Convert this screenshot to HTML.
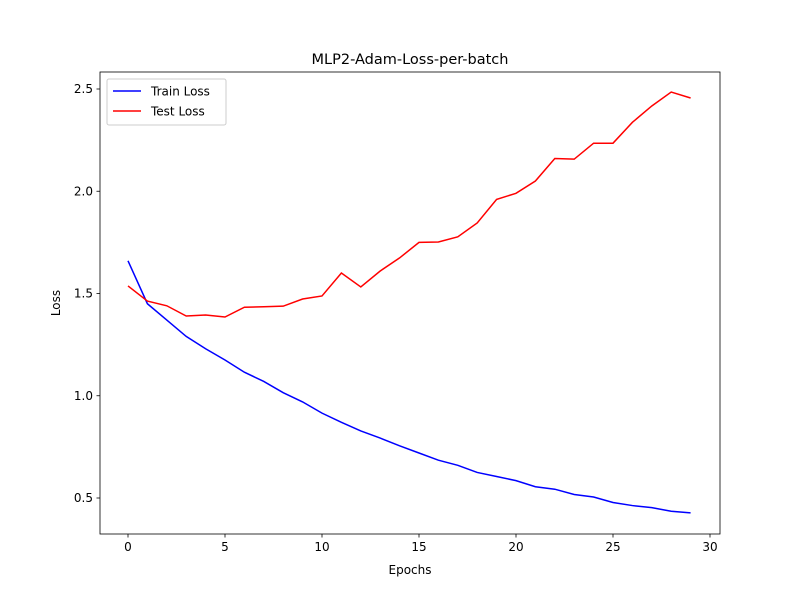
<!DOCTYPE html>
<html><head><meta charset="utf-8"><style>body{margin:0;background:#fff}svg{display:block;font-family:"DejaVu Sans","Liberation Sans",sans-serif}</style></head>
<body>
<svg id="chart" width="800" height="600" viewBox="0 0 800 600" xmlns="http://www.w3.org/2000/svg"></svg>
<script>
const epochs = [0,1,2,3,4,5,6,7,8,9,10,11,12,13,14,15,16,17,18,19,20,21,22,23,24,25,26,27,28,29];
const trainLoss = [1.66,1.45,1.37,1.29,1.23,1.175,1.115,1.07,1.015,0.97,0.915,0.87,0.828,0.793,0.755,0.72,0.685,0.66,0.625,0.605,0.585,0.555,0.543,0.517,0.505,0.478,0.463,0.453,0.435,0.427];
const testLoss = [1.537,1.463,1.44,1.39,1.395,1.385,1.433,1.435,1.438,1.473,1.488,1.6,1.532,1.61,1.674,1.75,1.752,1.777,1.845,1.96,1.99,2.05,2.16,2.157,2.235,2.235,2.337,2.417,2.485,2.456];
const xTicks = [0,5,10,15,20,25,30];
const yTicks = [0.5,1.0,1.5,2.0,2.5];
const yTickLabels = ["0.5","1.0","1.5","2.0","2.5"];

const svg = document.getElementById('chart');
const NS = 'http://www.w3.org/2000/svg';
const L=100,R=720,T=72,B=534;
const xs = v => 128 + (v-0)*(710-128)/30;
const ys = v => 498 - (v-0.5)*204.5;
function mk(tag, attrs, parent){const e=document.createElementNS(NS,tag);for(const k in attrs)e.setAttribute(k,attrs[k]);(parent||svg).appendChild(e);return e;}

xTicks.forEach(t=>{
  const g=mk('g',{});
  
  
  mk('line',{x1:xs(t),x2:xs(t),y1:B,y2:B+3.5,stroke:'#000','stroke-width':0.8},g);
  const tx=mk('text',{x:xs(t),y:B+17,'font-size':12,'text-anchor':'middle'},g);tx.textContent=t;
});
yTicks.forEach((t,i)=>{
  const g=mk('g',{});
  
  
  mk('line',{x1:L-3.5,x2:L,y1:ys(t),y2:ys(t),stroke:'#000','stroke-width':0.8},g);
  const tx=mk('text',{x:L-7,y:ys(t)+4,'font-size':12,'text-anchor':'end'},g);tx.textContent=yTickLabels[i];
});
function series(vals,color,name){
  const p=mk('polyline',{points:vals.map((v,i)=>xs(epochs[i])+','+ys(v)).join(' '),fill:'none',stroke:color,'stroke-width':1.5});
  
  
}
series(trainLoss,'#0000ff','train-loss-line');
series(testLoss,'#ff0000','test-loss-line');
const frame=mk('rect',{x:L,y:T,width:R-L,height:B-T,fill:'none',stroke:'#000','stroke-width':0.8});


const title=mk('text',{x:410,y:64,'font-size':14.5,'text-anchor':'middle'});title.textContent='MLP2-Adam-Loss-per-batch';


const xl=mk('text',{x:410,y:574,'font-size':12,'text-anchor':'middle'});xl.textContent='Epochs';


const yl=mk('text',{x:60,y:303,'font-size':12,'text-anchor':'middle',transform:'rotate(-90 60 303)'});yl.textContent='Loss';


const lg=mk('g',{});


mk('rect',{x:107,y:79,width:119,height:46,rx:2,fill:'#fff',stroke:'#ccc','stroke-width':1},lg);
[['Train Loss','#0000ff',91],['Test Loss','#ff0000',111]].forEach(([n,c,y])=>{
  const e=mk('g',{},lg);
  
  
  mk('line',{x1:113,x2:141,y1:y,y2:y,stroke:c,'stroke-width':1.5},e);
  const t=mk('text',{x:151,y:y+4.5,'font-size':12},e);t.textContent=n;
});
</script>
</body></html>
